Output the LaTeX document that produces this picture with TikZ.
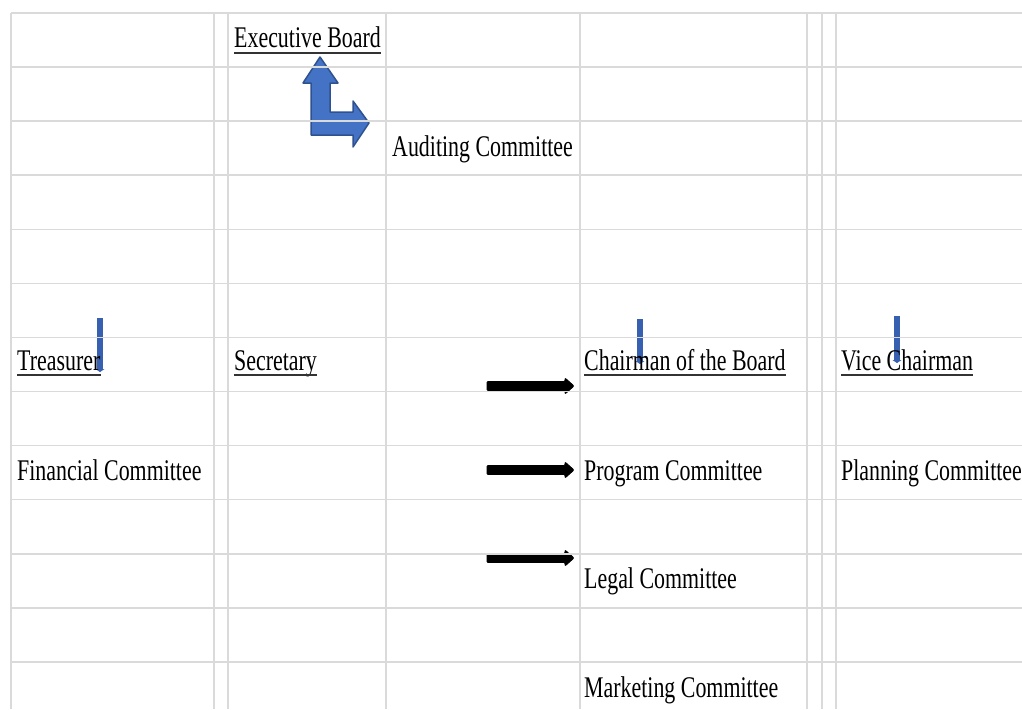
\documentclass[tikz,border=0pt]{standalone}
\usepackage{fontspec}
\setmainfont{Liberation Serif}[FakeStretch=0.73]
\usetikzlibrary{arrows.meta, positioning}
\definecolor{gridline}{RGB}{218,218,218}
\definecolor{shapefill}{RGB}{68,114,196}
\definecolor{shapeedge}{RGB}{47,82,143}
\definecolor{dropblue}{RGB}{56,96,176}

\begin{document}
\begin{tikzpicture}[x=1pt, y=-1pt, font=\fontsize{30}{36}\selectfont,
    cell/.style={anchor=base west, inner sep=0pt},
    uline/.style={line width=1.4pt, black!80},
    pointer/.style={fill=black, draw=black, line width=0.8pt, rounded corners=1pt},
    drop/.style={dropblue, line width=5.5pt, -{Triangle[length=3pt, width=9pt]}}]
    \useasboundingbox (0,0) rectangle (1022,709);

    % bent block arrow
    \draw[shapeedge, fill=shapefill, line width=1.5pt, line join=round]
      (320,57) -- (338,83) -- (330,83) -- (330,112) -- (353,112) -- (353,101)
      -- (369,123) -- (353,147) -- (353,135) -- (311,135) -- (311,83)
      -- (303,83) -- cycle;
    \foreach \x/\a/\b in {100/318/372, 640/319/364, 897/316/363}
      \draw[drop] (\x,\a) -- (\x,\b);
    \foreach \y in {386, 470, 558}
      \draw[pointer] (487,\y-4.5) -- (565,\y-4.5) -- (565,\y-8) -- (574,\y)
        -- (565,\y+8) -- (565,\y+4.5) -- (487,\y+4.5) -- cycle;

    % sheet grid
    \foreach \r in {0,...,12}
      \draw[gridline, line width=1.5pt] (11,13+\r*54.08) -- (1022,13+\r*54.08);
    \foreach \x in {11,214,228,386,580,807,822,836}
      \draw[gridline, line width=1.5pt] (\x,13) -- (\x,709);

    \foreach \n/\x/\y/\t in {
      exec/234/48/Executive Board,
      audit/392/156/Auditing Committee,
      treas/17/370/Treasurer,
      secr/234/370/Secretary,
      chair/584/370/Chairman of the Board,
      vice/841/370/Vice Chairman,
      fin/17/480/Financial Committee,
      prog/584/480/Program Committee,
      plan/841/480/Planning Committee,
      legal/584/588/Legal Committee,
      market/584/697/Marketing Committee%
    }{
      \node[cell] (\n) at (\x,\y) {\t};
    }
    \foreach \n in {exec, treas, secr, chair, vice}
      \draw[uline] ([yshift=-5pt]\n.base west) -- ([yshift=-5pt]\n.base east);
\end{tikzpicture}
\end{document}
